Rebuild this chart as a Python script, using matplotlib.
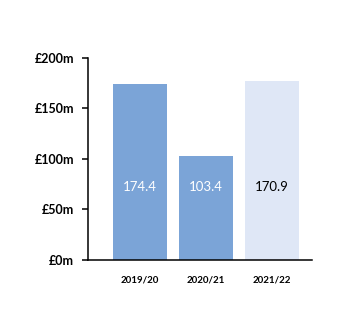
import numpy as np
import matplotlib.pyplot as plt
from matplotlib import rcParams

rcParams['font.family'] = ['Lato', 'DejaVu Sans']

# data
years = ['2019/20', '2020/21', '2021/22']
heights = [174.4, 103.4, 177.2]
value_labels = ['174.4', '103.4', '170.9']
bar_colors = ['#7ba4d7', '#7ba4d7', '#dfe7f6']
text_colors = ['white', 'white', 'black']
yticks = [0, 50, 100, 150, 200]
ytick_labels = ['£0m', '£50m', '£100m', '£150m', '£200m']

fig = plt.figure(figsize=(3.5, 3.32), dpi=100)
ax = fig.add_axes([0.2514, 0.2169, 0.64, 0.6084])

x = np.arange(len(years))
ax.bar(x, heights, width=0.83, color=bar_colors, edgecolor='none')

for xi, lab, tc in zip(x, value_labels, text_colors):
    ax.text(xi, 72, lab, ha='center', va='center', color=tc, fontsize=9.5)

ax.set_xlim(-0.788, 2.606)
ax.set_ylim(0, 200)
ax.set_xticks(x)
ax.set_xticklabels(years, fontsize=7, fontweight='bold')
ax.tick_params(axis='x', length=0, pad=11)
ax.set_yticks(yticks)
ax.set_yticklabels(ytick_labels, fontsize=9, fontweight='bold')
ax.tick_params(axis='y', length=4.5, width=1.1, direction='out', pad=5.5)

for side in ['top', 'right']:
    ax.spines[side].set_visible(False)
for side in ['left', 'bottom']:
    ax.spines[side].set_linewidth(1.1)

fig.savefig('out.png', dpi=100)
